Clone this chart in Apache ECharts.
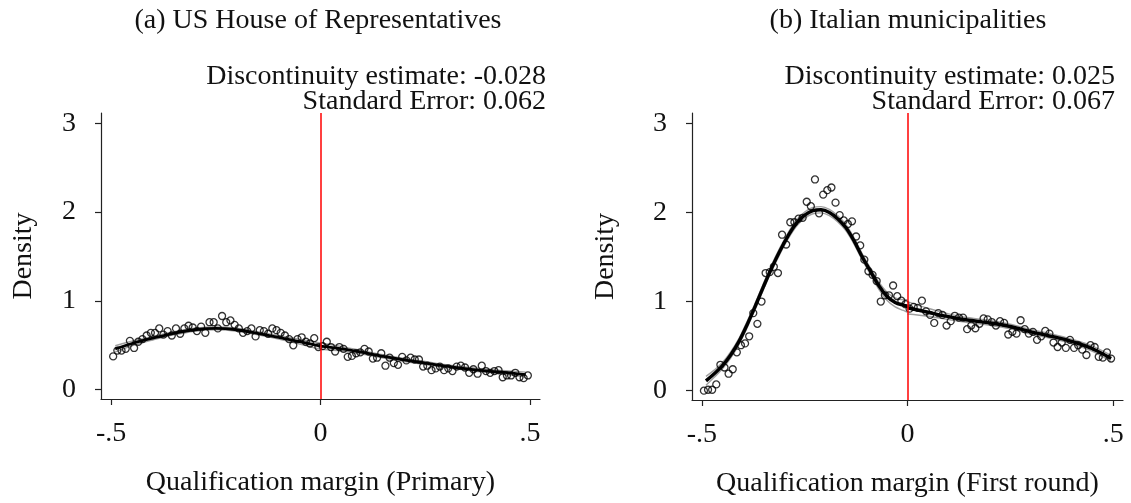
<!DOCTYPE html>
<html>
<head>
<meta charset="utf-8">
<script src="https://cdn.jsdelivr.net/npm/echarts@6/dist/echarts.min.js"></script>
<style>html,body{margin:0;padding:0;background:#fff;}#c{width:1131px;height:503px;}</style>
</head>
<body>
<div id="c"></div>
<script>
// ---- DATA ----
const binX = [-0.495,-0.485,-0.475,-0.465,-0.455,-0.445,-0.435,-0.425,-0.415,-0.405,
-0.395,-0.385,-0.375,-0.365,-0.355,-0.345,-0.335,-0.325,-0.315,-0.305,
-0.295,-0.285,-0.275,-0.265,-0.255,-0.245,-0.235,-0.225,-0.215,-0.205,
-0.195,-0.185,-0.175,-0.165,-0.155,-0.145,-0.135,-0.125,-0.115,-0.105,
-0.095,-0.085,-0.075,-0.065,-0.055,-0.045,-0.035,-0.025,-0.015,-0.005,
0.005,0.015,0.025,0.035,0.045,0.055,0.065,0.075,0.085,0.095,
0.105,0.115,0.125,0.135,0.145,0.155,0.165,0.175,0.185,0.195,
0.205,0.215,0.225,0.235,0.245,0.255,0.265,0.275,0.285,0.295,
0.305,0.315,0.325,0.335,0.345,0.355,0.365,0.375,0.385,0.395,
0.405,0.415,0.425,0.435,0.445,0.455,0.465,0.475,0.485,0.495];

// Panel (a) US House: binned densities
const densA = [0.375,0.44,0.44,0.46,0.55,0.47,0.54,0.57,0.61,0.64,
0.64,0.69,0.62,0.66,0.61,0.69,0.63,0.69,0.72,0.70,
0.66,0.71,0.64,0.76,0.76,0.69,0.83,0.76,0.78,0.73,
0.69,0.64,0.66,0.69,0.60,0.67,0.66,0.63,0.69,0.67,
0.64,0.61,0.57,0.50,0.57,0.59,0.54,0.52,0.58,0.48,
0.49,0.54,0.48,0.43,0.48,0.46,0.37,0.38,0.41,0.42,
0.46,0.43,0.35,0.36,0.41,0.27,0.36,0.30,0.28,0.37,
0.33,0.36,0.34,0.34,0.26,0.27,0.22,0.24,0.26,0.22,
0.24,0.21,0.26,0.27,0.25,0.19,0.23,0.18,0.27,0.21,
0.19,0.21,0.22,0.14,0.16,0.16,0.19,0.14,0.13,0.16];

// Panel (b) Italian municipalities: binned densities
const densB = [0.00,0.01,0.01,0.07,0.29,0.26,0.19,0.24,0.43,0.51,
0.53,0.61,0.87,0.75,1.00,1.32,1.33,1.39,1.32,1.75,
1.64,1.89,1.89,1.93,1.94,2.12,2.07,2.37,1.99,2.20,
2.25,2.28,2.11,1.97,1.91,1.87,1.90,1.73,1.63,1.47,
1.34,1.30,1.23,1.00,1.07,1.07,1.18,1.06,1.01,0.97,
0.92,0.94,0.93,1.01,0.89,0.85,0.76,0.87,0.85,0.73,
0.78,0.84,0.82,0.82,0.69,0.73,0.70,0.75,0.81,0.80,
0.77,0.73,0.78,0.76,0.63,0.66,0.64,0.79,0.69,0.64,
0.66,0.57,0.61,0.67,0.64,0.54,0.49,0.54,0.48,0.57,
0.48,0.51,0.46,0.40,0.51,0.49,0.38,0.37,0.43,0.36];

// Fitted densities (local polynomial) and CI half-widths
const fitAxL = [-0.49,-0.45,-0.40,-0.35,-0.30,-0.25,-0.20,-0.15,-0.10,-0.05,0];
const fitAyL = [0.46,0.52,0.58,0.635,0.675,0.69,0.675,0.635,0.59,0.54,0.49];
const ciAL   = [0.035,0.025,0.02,0.018,0.017,0.017,0.017,0.018,0.02,0.025,0.035];
const fitAxR = [0,0.05,0.10,0.15,0.20,0.25,0.30,0.35,0.40,0.45,0.49];
const fitAyR = [0.49,0.46,0.42,0.375,0.335,0.30,0.265,0.235,0.21,0.19,0.17];
const ciAR   = [0.035,0.025,0.02,0.018,0.017,0.017,0.017,0.017,0.018,0.022,0.028];

const fitBxL = [-0.49,-0.47,-0.45,-0.43,-0.41,-0.39,-0.37,-0.35,-0.33,-0.31,-0.29,-0.27,-0.25,-0.23,-0.21,-0.19,-0.17,-0.15,-0.13,-0.11,-0.09,-0.07,-0.05,-0.03,-0.01,0];
const fitByL = [0.11,0.19,0.28,0.40,0.55,0.74,0.95,1.17,1.38,1.57,1.74,1.88,1.97,2.02,2.03,2.00,1.93,1.83,1.68,1.50,1.34,1.18,1.06,0.99,0.96,0.95];
const ciBL   = [0.05,0.04,0.035,0.035,0.035,0.035,0.035,0.035,0.035,0.035,0.035,0.035,0.035,0.035,0.035,0.035,0.035,0.035,0.035,0.035,0.035,0.04,0.045,0.05,0.06,0.07];
const fitBxR = [0,0.05,0.10,0.15,0.20,0.25,0.30,0.35,0.40,0.45,0.495];
const fitByR = [0.93,0.88,0.83,0.79,0.76,0.72,0.66,0.61,0.55,0.47,0.36];
const ciBR   = [0.07,0.045,0.032,0.028,0.026,0.026,0.026,0.026,0.026,0.03,0.035];

const xTickValues = [-0.5, 0, 0.5];
const xTickLabels = ['-.5', '0', '.5'];
const yTickValues = [0, 1, 2, 3];
const yTickLabels = ['0', '1', '2', '3'];

const titles = ['(a) US House of Representatives', '(b) Italian municipalities'];
const notes1 = ['Discontinuity estimate: -0.028', 'Discontinuity estimate: 0.025'];
const notes2 = ['Standard Error: 0.062', 'Standard Error: 0.067'];
const xNames = ['Qualification margin (Primary)', 'Qualification margin (First round)'];
const yName = 'Density';

// ---- CHART ----
const FONT = 'Liberation Serif';
const FS = 28;
const chart = echarts.init(document.getElementById('c'), null, {renderer: 'canvas'});

function pairs(xs, ys) { return xs.map((x, i) => [x, ys[i]]); }
function band(xs, ys, hw, sign) { return xs.map((x, i) => [x, ys[i] + sign * hw[i]]); }

const grids = [
  {left: 101, top: 113, width: 439, height: 286},
  {left: 692, top: 113, width: 431, height: 287}
];

const xAxes = [0, 1].map(i => ({
  gridIndex: i, type: 'value', min: -0.524, max: 0.524,
  name: xNames[i], nameLocation: 'middle', nameGap: 70,
  nameTextStyle: {fontFamily: FONT, fontSize: FS, color: '#111'},
  axisLine: {onZero: false, lineStyle: {color: '#222', width: 1.2}},
  axisTick: {show: true, length: 6, customValues: xTickValues, lineStyle: {color: '#222', width: 1.2}},
  axisLabel: {customValues: xTickValues, margin: 21, fontFamily: FONT, fontSize: FS, color: '#111',
    formatter: v => xTickLabels[xTickValues.indexOf(v)] ?? ''},
  splitLine: {show: false}
}));
const yAxes = [0, 1].map(i => ({
  gridIndex: i, type: 'value', min: -0.105, max: 3.116,
  name: yName, nameLocation: 'middle', nameGap: i === 0 ? 63 : 72, nameRotate: 90,
  nameTextStyle: {fontFamily: FONT, fontSize: FS, color: '#111'},
  axisLine: {onZero: false, lineStyle: {color: '#222', width: 1.2}},
  axisTick: {show: true, length: 6, customValues: yTickValues, lineStyle: {color: '#222', width: 1.2}},
  axisLabel: {customValues: yTickValues, margin: 25, fontFamily: FONT, fontSize: FS, color: '#111',
    formatter: v => yTickLabels[yTickValues.indexOf(v)] ?? ''},
  splitLine: {show: false}
}));

const series = [];
const panels = [
  {dens: densA, fits: [[fitAxL, fitAyL, ciAL], [fitAxR, fitAyR, ciAR]], w: 2.8},
  {dens: densB, fits: [[fitBxL, fitByL, ciBL], [fitBxR, fitByR, ciBR]], w: 3.4}
];
panels.forEach((p, i) => {
  p.fits.forEach(([xs, ys, hw]) => {
    [1, -1].forEach(s => series.push({
      type: 'line', xAxisIndex: i, yAxisIndex: i, data: band(xs, ys, hw, s),
      smooth: 0.35, symbol: 'none', z: 2,
      lineStyle: {color: '#a0a0a0', width: 1.4}
    }));
    series.push({
      type: 'line', xAxisIndex: i, yAxisIndex: i, data: pairs(xs, ys),
      smooth: 0.35, symbol: 'none', z: 3,
      lineStyle: {color: '#000', width: p.w}
    });
  });
  series.push({
    type: 'scatter', xAxisIndex: i, yAxisIndex: i, data: pairs(binX, p.dens),
    symbol: 'circle', symbolSize: 7, z: 4,
    itemStyle: {color: 'rgba(255,255,255,0)', borderColor: '#000', borderWidth: 1.3},
    markLine: {
      silent: true, symbol: ['none', 'none'], label: {show: false},
      lineStyle: {color: '#ff0000', width: 1.5, type: 'solid'},
      data: [{xAxis: 0}]
    }
  });
});

const centers = [318, 908];
const rights = [546, 1115];
const graphic = [];
[0, 1].forEach(i => {
  graphic.push({type: 'text', x: centers[i], y: 21, style: {text: titles[i], font: FS + 'px "' + FONT + '"', fill: '#111', textAlign: 'center', textVerticalAlign: 'middle'}});
  graphic.push({type: 'text', x: rights[i], y: 77, style: {text: notes1[i], font: FS + 'px "' + FONT + '"', fill: '#111', textAlign: 'right', textVerticalAlign: 'middle'}});
  graphic.push({type: 'text', x: rights[i], y: 102, style: {text: notes2[i], font: FS + 'px "' + FONT + '"', fill: '#111', textAlign: 'right', textVerticalAlign: 'middle'}});
});

chart.setOption({
  animation: false,
  backgroundColor: '#fff',
  grid: grids,
  xAxis: xAxes,
  yAxis: yAxes,
  series: series,
  graphic: graphic
});
</script>
</body>
</html>
